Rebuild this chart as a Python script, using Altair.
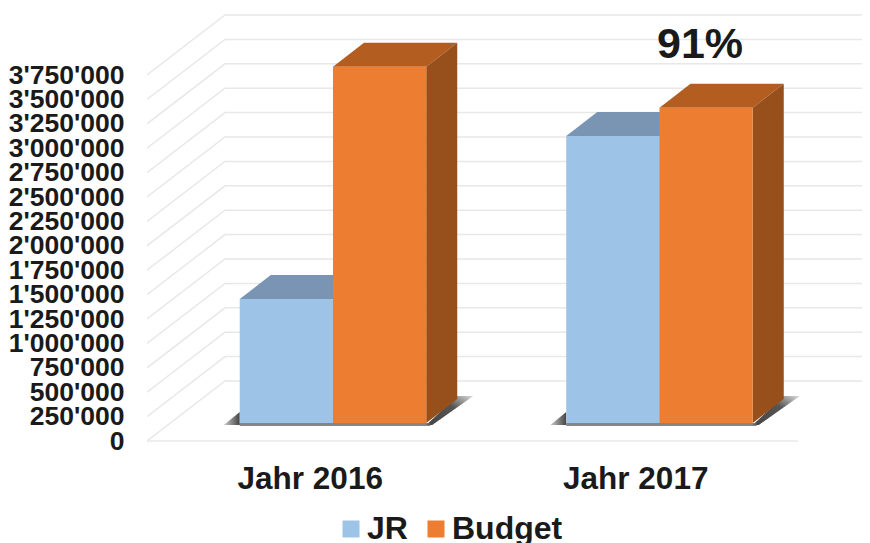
import altair as alt
import pandas as pd

categories = ["Jahr 2016", "Jahr 2017"]
series = ["JR", "Budget"]
jr_values = [1270000, 2940000]
budget_values = [3650000, 3230000]
y_ticks = list(range(0, 4000000, 250000))
annotation = "91%"

FONT = "Liberation Sans"
# units: x in category groups (1 group = 325.5 px), y in value (97.6 px per million)
PX = 1 / 325.5
VPX = 1e6 / 97.6
X_MAX = 715 * PX
Y_MAX = 431 * VPX
WALL_X, WALL_Y = 78 * PX, 60 * VPX
DEPTH_X, DEPTH_Y = 31 * PX, 24 * VPX
BASE = 18 * VPX
CENTERS = [0.5714, 1.5745]
LABEL_POS = [0.5, 1.5]
BW = 0.2865

x_scale = alt.Scale(domain=[0, X_MAX], nice=False, zero=False)
y_scale = alt.Scale(domain=[0, Y_MAX], nice=False, zero=False)
colors = {"JR": ("#9DC3E6", "#7A95B3", "#7A95B3"), "Budget": ("#ED7D31", "#B35D20", "#97501C")}

x_axis = alt.Axis(values=LABEL_POS, title=None, domain=False, ticks=False, grid=False,
                  labelFont=FONT, labelFontWeight="bold", labelFontSize=31.5, labelColor="#1a1a1a",
                  labelPadding=22, labelOverlap=False, labelFlush=False,
                  labelExpr=f"datum.value < 1 ? '{categories[0]}' : '{categories[1]}'")
y_axis = alt.Axis(values=y_ticks, title=None, domain=False, ticks=False, grid=False,
                  labelFont=FONT, labelFontWeight="bold", labelFontSize=26.5, labelColor="#1a1a1a",
                  labelPadding=23, labelOverlap=False, labelFlush=False,
                  labelExpr="replace(format(datum.value, ','), regexp(',', 'g'), \"'\")")
X = alt.X("x:Q", scale=x_scale, axis=x_axis)
Y = alt.Y("y:Q", scale=y_scale, axis=y_axis)

# gridlines on the wall
grid = []
for v in y_ticks:
    grid += [
        {"g": v, "o": 0, "x": 0, "y": v},
        {"g": v, "o": 1, "x": WALL_X, "y": v + WALL_Y},
        {"g": v, "o": 2, "x": X_MAX, "y": v + WALL_Y},
    ]
grid_layer = alt.Chart(pd.DataFrame(grid)).mark_line(color="#E8E8E8", strokeWidth=1.5, clip=True).encode(
    x=X, y=Y, detail="g:N", order="o:Q",
)

floor_layer = alt.Chart(pd.DataFrame({"x": [0], "x2": [651 * PX], "y": [0]})).mark_rule(
    color="#E8E8E8", strokeWidth=1.5
).encode(x=X, x2="x2:Q", y=Y)

tops, sides, fronts, shadow_r, shadow_l, shadow_b = [], [], [], [], [], []
for i, c in enumerate(CENTERS):
    for s, vals in zip(series, [jr_values, budget_values]):
        left = c - BW if s == "JR" else c
        right = left + BW
        top = BASE + vals[i]
        key = f"{s}{i}"
        fronts.append({"series": s, "x": left, "x2": right, "y": BASE, "y2": top})
        tops += [
            {"k": key, "series": s, "y": top, "x": left, "x2": right},
            {"k": key, "series": s, "y": top + DEPTH_Y, "x": left + DEPTH_X, "x2": right + DEPTH_X},
        ]
        sides += [
            {"k": key, "series": s, "x": right, "y": BASE, "y2": top},
            {"k": key, "series": s, "x": right + DEPTH_X, "y": BASE + DEPTH_Y, "y2": top + DEPTH_Y},
        ]
    l, r = c - BW, c + BW
    shadow_r += [
        {"k": i, "y": BASE - 2 * VPX, "x": r, "x2": r + 6 * PX},
        {"k": i, "y": BASE + 27 * VPX, "x": r + 31 * PX, "x2": r + 47 * PX},
    ]
    shadow_l += [
        {"k": i, "y": BASE - 2 * VPX, "x": l - 16 * PX, "x2": l},
        {"k": i, "y": BASE + 11 * VPX, "x": l, "x2": l},
    ]
    shadow_b.append({"x": l, "x2": r + 4 * PX, "y": BASE - 3 * VPX, "y2": BASE})

sh_r = alt.Chart(pd.DataFrame(shadow_r)).mark_area(
    orient="horizontal",
    color=alt.Gradient(gradient="linear", x1=0, x2=1, y1=1, y2=0,
                       stops=[alt.GradientStop(color="#444444", offset=0),
                              alt.GradientStop(color="#555555", offset=0.6),
                              alt.GradientStop(color="#dddddd", offset=1)])
).encode(y=Y, x=X, x2="x2:Q", detail="k:N")
sh_l = alt.Chart(pd.DataFrame(shadow_l)).mark_area(
    orient="horizontal",
    color=alt.Gradient(gradient="linear", x1=0, x2=1, y1=0, y2=0,
                       stops=[alt.GradientStop(color="#cccccc", offset=0),
                              alt.GradientStop(color="#444444", offset=1)])
).encode(y=Y, x=X, x2="x2:Q", detail="k:N")
sh_b = alt.Chart(pd.DataFrame(shadow_b)).mark_rect(color="#666666", opacity=0.8).encode(
    x=X, x2="x2:Q", y=Y, y2="y2:Q")

side_scale = alt.Scale(domain=series, range=[colors[s][2] for s in series])
top_scale = alt.Scale(domain=series, range=[colors[s][1] for s in series])
front_scale = alt.Scale(domain=series, range=[colors[s][0] for s in series])

top_layer = alt.Chart(pd.DataFrame(tops)).mark_area(orient="horizontal").encode(
    y=Y, x=X, x2="x2:Q", detail="k:N", color=alt.Color("series:N", scale=top_scale, legend=None))
side_layer = alt.Chart(pd.DataFrame(sides)).mark_area(orient="vertical").encode(
    x=X, y=Y, y2="y2:Q", detail="k:N", color=alt.Color("series:N", scale=side_scale, legend=None))
front_layer = alt.Chart(pd.DataFrame(fronts)).mark_rect().encode(
    x=X, x2="x2:Q", y=Y, y2="y2:Q",
    color=alt.Color("series:N", scale=front_scale, title=None,
                    legend=alt.Legend(orient="none", legendX=188, legendY=503, direction="horizontal",
                                      symbolType="square", symbolSize=289, symbolStrokeWidth=0,
                                      labelFont=FONT, labelFontWeight="bold", labelFontSize=32,
                                      labelColor="#1a1a1a", labelOffset=0, columnPadding=12,
                                      labelLimit=200)),
)

text_layer = alt.Chart(pd.DataFrame({"t": [annotation], "x": [553 * PX], "y": [396 * VPX]})).mark_text(
    font=FONT, fontWeight="bold", fontSize=43, color="#1a1a1a", align="center", baseline="middle"
).encode(x=X, y=Y, text="t:N")

chart = alt.layer(
    grid_layer, floor_layer, sh_r, sh_l, sh_b, top_layer, side_layer, front_layer, text_layer
).resolve_scale(color="independent").properties(
    width=715, height=431,
    autosize=alt.AutoSizeParams(type="none"),
    padding={"left": 139, "top": 2, "right": 0, "bottom": 102},
    background="white",
).configure_view(stroke=None)

chart.save("out.html", embed_options={"renderer": "svg", "actions": False})
